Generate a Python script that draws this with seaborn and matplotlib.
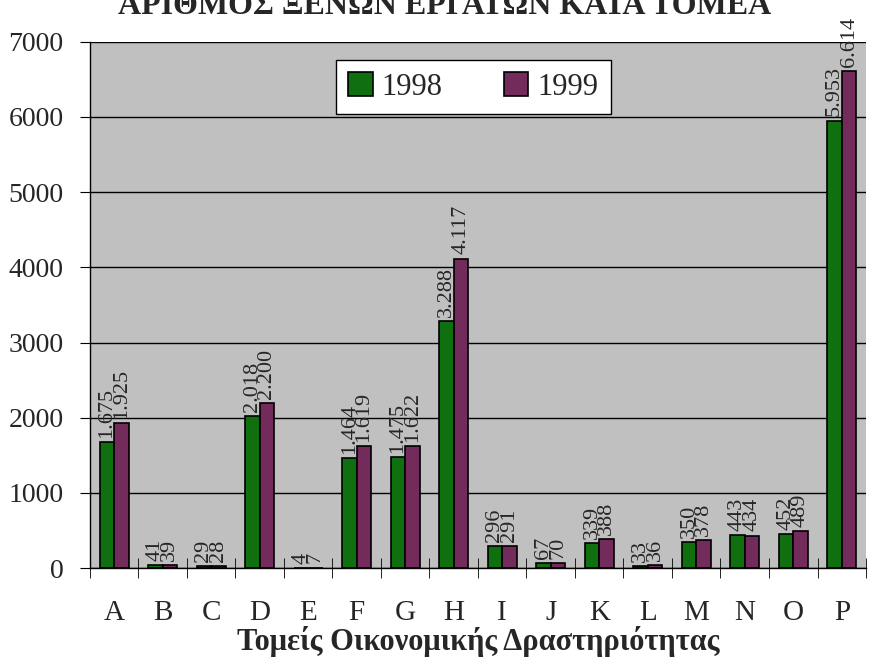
import matplotlib
matplotlib.use("Agg")
import matplotlib.pyplot as plt
import pandas as pd
import seaborn as sns
from matplotlib.ticker import FixedLocator

sectors = list("ABCDEFGHIJKLMNOP")
years = ["1998", "1999"]
workers_1998 = [1675, 41, 29, 2018, 4, 1464, 1475, 3288, 296, 67, 339, 33, 350, 443, 452, 5953]
workers_1999 = [1925, 39, 28, 2200, 7, 1619, 1622, 4117, 291, 70, 388, 36, 378, 434, 489, 6614]

df = pd.DataFrame({
    "sector": sectors * 2,
    "year": [years[0]] * len(sectors) + [years[1]] * len(sectors),
    "workers": workers_1998 + workers_1999,
})

sns.set_style("white")
plt.rcParams["font.family"] = ["Liberation Serif", "DejaVu Serif"]

colors = ["#008000", "#7F1F60"]

fig = plt.figure(figsize=(8.81, 6.63), dpi=100)
ax = fig.add_axes([0.102, 0.143, 0.881, 0.794])
ax.set_facecolor("#C0C0C0")

sns.barplot(df, x="sector", y="workers", hue="year", palette=colors, width=0.6,
            edgecolor="black", linewidth=1.2, errorbar=None, ax=ax, zorder=3)

def fmt(v):
    return f"{int(round(v)):,}".replace(",", ".")

for c in ax.containers:
    ax.bar_label(c, labels=[fmt(b.get_height()) for b in c], rotation=90,
                 fontsize=16, padding=3)

ax.set_ylim(0, 7000)
ax.set_xlim(-0.5, len(sectors) - 0.5)
ax.set_yticks(range(0, 7001, 1000))
ax.yaxis.grid(True, color="black", linewidth=1)
ax.set_axisbelow(True)
ax.tick_params(axis="y", labelsize=20, length=7, pad=12, direction="out", left=True, color="black")
ax.tick_params(axis="x", which="major", labelsize=21, length=0, pad=23)
ax.xaxis.set_minor_locator(FixedLocator([i + 0.5 for i in range(-1, len(sectors))]))
ax.tick_params(axis="x", which="minor", length=14, direction="inout", bottom=True, color="black")

for s in ["top", "right"]:
    ax.spines[s].set_visible(False)
for s in ["left", "bottom"]:
    ax.spines[s].set_color("black")
    ax.spines[s].set_linewidth(1)

ax.set_ylabel("")
ax.set_xlabel("Τομείς Οικονομικής Δραστηριότητας", fontsize=22, fontweight="bold", labelpad=0)

leg = ax.legend(loc="upper center", bbox_to_anchor=(0.494, 0.994), ncol=2, fontsize=22,
                frameon=True, fancybox=False, framealpha=1, edgecolor="black",
                handlelength=0.8, handleheight=0.8, columnspacing=2.0, handletextpad=0.3,
                borderpad=0.4)
leg.get_frame().set_linewidth(1)
leg.set_zorder(5)

fig.text(0.505, 1 - 14 / 663, "ΑΡΙΘΜΟΣ ΞΕΝΩΝ ΕΡΓΑΤΩΝ ΚΑΤΑ ΤΟΜΕΑ", ha="center", va="baseline",
         fontsize=23, fontweight="bold")

fig.savefig("out.png", dpi=100)
plt.close(fig)
